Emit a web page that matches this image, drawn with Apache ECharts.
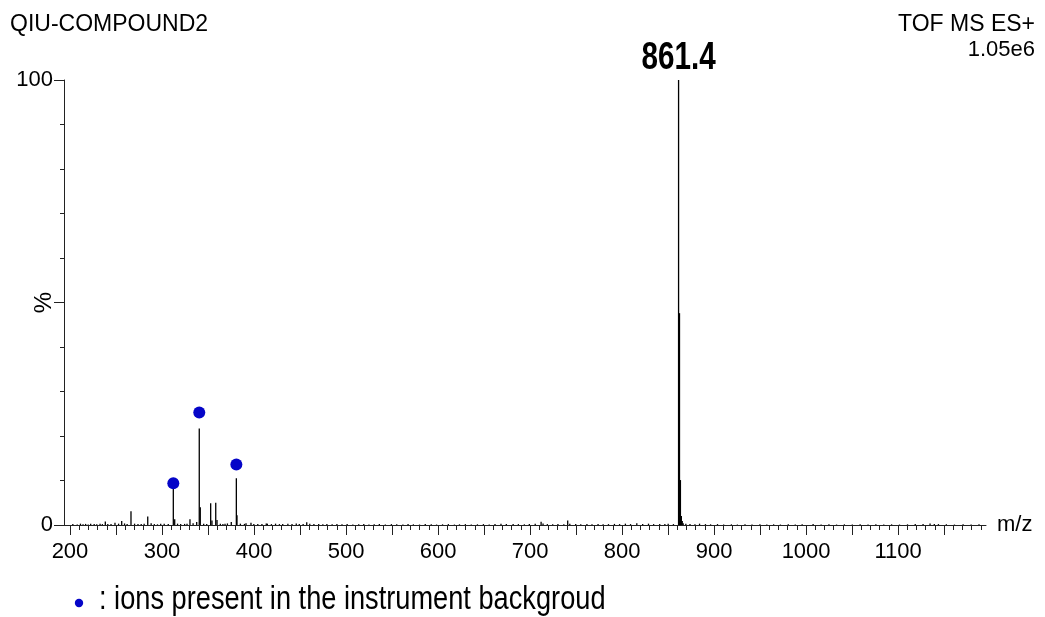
<!DOCTYPE html>
<html>
<head>
<meta charset="utf-8">
<script src="https://cdn.jsdelivr.net/npm/echarts@6/dist/echarts.min.js"></script>
<style>
  html, body { margin: 0; padding: 0; background: #fff; }
  #chart { width: 1045px; height: 617px; }
</style>
</head>
<body>
<div id="chart"></div>
<script>
// Header texts
const sampleName = 'QIU-COMPOUND2';
const acquisition = 'TOF MS ES+';
const fullScale = '1.05e6';
const backgroundNote = ': ions present in the instrument backgroud';

// Resolved peaks: [m/z, relative intensity %]
const mainPeaks = [
  [238.4, 0.8], [248.9, 0.5], [256.2, 0.9], [266.3, 3.1], [284.5, 1.9],
  [298.6, 0.3], [312.3, 8.2], [313.8, 1.3], [330.4, 1.3], [337.7, 0.7],
  [340.5, 21.7], [341.6, 4.0], [352.9, 4.9], [354.3, 1.0], [358.4, 5.0],
  [359.8, 1.1], [368.5, 0.3], [375.3, 0.7], [380.8, 10.5], [381.5, 2.2],
  [396.7, 0.5], [414.5, 0.3], [457.3, 0.6], [712.0, 0.75], [740.9, 1.0],
  [816.0, 0.4], [861.4, 100], [862.4, 47.6], [863.4, 10.1], [864.4, 2.0],
  [865.4, 0.9], [866.4, 0.4], [884.2, 0.3], [1007.6, 0.2], [1134.7, 0.35],
  [1143.8, 0.2]
];

// Low-level baseline signals: [m/z, relative intensity %]
const noisePeaks = [
  [203.1, 0.2], [207.9, 0.1], [211.4, 0.3], [214.2, 0.15], [217.0, 0.25],
  [219.8, 0.1], [222.5, 0.3], [226.3, 0.2], [229.1, 0.15], [232.7, 0.3],
  [235.2, 0.2], [241.1, 0.25], [244.6, 0.2], [252.8, 0.3], [259.3, 0.35],
  [262.1, 0.2], [270.2, 0.3], [273.9, 0.25], [277.4, 0.2], [280.6, 0.3],
  [288.2, 0.4], [291.7, 0.2], [295.1, 0.15], [302.4, 0.3], [306.8, 0.2],
  [316.9, 0.3], [320.3, 0.2], [324.6, 0.25], [327.2, 0.3], [333.8, 0.4],
  [345.3, 0.3], [348.6, 0.25], [363.4, 0.3], [366.2, 0.2], [371.1, 0.35],
  [385.2, 0.3], [389.6, 0.25], [391.3, 0.4], [399.8, 0.2], [404.1, 0.25],
  [408.6, 0.2], [413.3, 0.35], [418.9, 0.2], [423.4, 0.3], [427.6, 0.2],
  [431.2, 0.25], [436.8, 0.3], [441.3, 0.2], [445.9, 0.35], [449.2, 0.2],
  [453.4, 0.25], [460.6, 0.3], [465.1, 0.2], [470.3, 0.25], [474.8, 0.15],
  [479.2, 0.2], [484.9, 0.15], [490.1, 0.2], [495.6, 0.15], [501.2, 0.2],
  [507.4, 0.1], [513.8, 0.15], [519.3, 0.2], [524.9, 0.1], [530.6, 0.15],
  [536.2, 0.2], [542.7, 0.1], [549.3, 0.2], [555.1, 0.15], [561.8, 0.1],
  [567.4, 0.2], [573.2, 0.15], [579.9, 0.1], [586.1, 0.2], [592.6, 0.15],
  [598.4, 0.1], [604.9, 0.15], [611.2, 0.2], [617.8, 0.1], [623.3, 0.15],
  [629.7, 0.2], [636.1, 0.1], [642.8, 0.15], [649.3, 0.2], [655.6, 0.1],
  [661.9, 0.2], [668.4, 0.3], [674.2, 0.2], [681.6, 0.25], [687.3, 0.2],
  [693.8, 0.15], [699.2, 0.2], [705.6, 0.3], [714.1, 0.35], [718.8, 0.2],
  [724.6, 0.15], [730.3, 0.2], [736.7, 0.15], [743.2, 0.3], [749.6, 0.2],
  [755.1, 0.15], [761.8, 0.2], [767.3, 0.15], [773.9, 0.2], [779.4, 0.15],
  [785.2, 0.2], [791.7, 0.25], [797.3, 0.2], [803.6, 0.3], [809.2, 0.2],
  [822.4, 0.25], [828.7, 0.3], [834.3, 0.2], [840.9, 0.25], [846.5, 0.2],
  [850.1, 0.3], [855.8, 0.2], [869.3, 0.3], [873.8, 0.2], [879.2, 0.15],
  [890.6, 0.2], [896.2, 0.15], [903.7, 0.2], [910.4, 0.1], [918.8, 0.15],
  [925.3, 0.1], [933.6, 0.15], [941.2, 0.1], [949.8, 0.15], [957.3, 0.1],
  [964.7, 0.15], [972.1, 0.1], [980.6, 0.15], [988.2, 0.1], [995.7, 0.15],
  [1016.3, 0.1], [1024.8, 0.15], [1033.1, 0.1], [1041.6, 0.15], [1050.2, 0.1],
  [1058.7, 0.15], [1067.3, 0.1], [1075.8, 0.15], [1084.4, 0.1], [1092.9, 0.15],
  [1101.5, 0.1], [1110.2, 0.15], [1118.6, 0.2], [1127.1, 0.25], [1139.3, 0.2],
  [1152.4, 0.15], [1161.2, 0.1], [1170.6, 0.15], [1179.3, 0.1], [1187.9, 0.15]
];

// Most intense ion, labelled with its m/z
const basePeak = [[861.4, 100]];

// Ions present in the instrument background and the height of their markers (%)
const backgroundIonMz = [312.3, 340.5, 380.8];
const backgroundMarkerLevel = [9.4, 25.3, 13.6];

// Axis ticks and labels
const xLabelValues = [200, 300, 400, 500, 600, 700, 800, 900, 1000, 1100];
const xMajorTicks = [200, 250, 300, 350, 400, 450, 500, 550, 600, 650, 700, 750,
                     800, 850, 900, 950, 1000, 1050, 1100, 1150];
const yLabelValues = [0, 100];
const xRange = [193.5, 1195.5];

const xMinorTicks = [];
for (let v = 200; v <= 1190; v += 10) {
  if (v % 50 !== 0) xMinorTicks.push(v);
}

const FONT = '"Liberation Sans", Arial, Helvetica, sans-serif';
const INK = '#000';
const AXIS = '#222';
const MARKER = '#0505c8';

function renderStick(params, api) {
  const base = api.coord([api.value(0), 0]);
  const top = api.coord([api.value(0), api.value(1)]);
  return {
    type: 'line',
    shape: { x1: base[0], y1: base[1], x2: top[0], y2: top[1] },
    style: { stroke: INK, lineWidth: 1.3 }
  };
}

function renderPeakLabel(params, api) {
  const top = api.coord([api.value(0), api.value(1)]);
  return {
    type: 'text',
    x: top[0],
    y: top[1] - 21,
    scaleX: 0.78,
    style: {
      text: api.value(0).toFixed(1),
      font: 'bold 38px ' + FONT,
      fill: INK,
      align: 'center',
      verticalAlign: 'middle'
    }
  };
}

const chart = echarts.init(document.getElementById('chart'), null, { renderer: 'canvas' });

chart.setOption({
  animation: false,
  backgroundColor: '#fff',
  textStyle: { fontFamily: FONT, color: INK },
  grid: { left: 64, right: 59, top: 80, bottom: 92, containLabel: false, outerBoundsMode: 'none' },
  xAxis: [
    {
      type: 'value',
      min: xRange[0],
      max: xRange[1],
      position: 'bottom',
      name: 'm/z',
      nameLocation: 'end',
      nameGap: 11,
      nameMoveOverlap: false,
      nameTextStyle: { fontSize: 22, color: INK, fontFamily: FONT, verticalAlign: 'middle' },
      axisLine: { show: true, onZero: false, lineStyle: { color: AXIS, width: 1 } },
      axisTick: { show: true, inside: false, length: 10, customValues: xMajorTicks, lineStyle: { color: AXIS, width: 1 } },
      axisLabel: {
        show: true, customValues: xLabelValues, margin: 16, fontSize: 22, color: INK, fontFamily: FONT,
        formatter: (v) => String(v)
      },
      splitLine: { show: false }
    },
    {
      type: 'value',
      min: xRange[0],
      max: xRange[1],
      position: 'bottom',
      axisLine: { show: false },
      axisTick: { show: true, inside: false, length: 5, customValues: xMinorTicks, lineStyle: { color: AXIS, width: 1 } },
      axisLabel: { show: false },
      splitLine: { show: false }
    }
  ],
  yAxis: {
    type: 'value',
    min: 0,
    max: 100,
    interval: 50,
    name: '%',
    nameLocation: 'middle',
    nameRotate: 90,
    nameGap: 8,
    nameMoveOverlap: false,
    nameTextStyle: { fontSize: 24, color: INK, fontFamily: FONT },
    axisLine: { show: true, onZero: false, lineStyle: { color: AXIS, width: 1 } },
    axisTick: { show: true, inside: false, length: 10, lineStyle: { color: AXIS, width: 1 } },
    minorTick: { show: true, splitNumber: 5, length: 4, lineStyle: { color: AXIS, width: 1 } },
    axisLabel: {
      show: true, customValues: yLabelValues, margin: 11, fontSize: 22, color: INK, fontFamily: FONT,
      formatter: (v) => String(v)
    },
    splitLine: { show: false },
    minorSplitLine: { show: false }
  },
  series: [
    {
      name: 'baseline',
      type: 'custom',
      xAxisIndex: 0,
      renderItem: renderStick,
      encode: { x: 0, y: 1 },
      data: noisePeaks,
      silent: true
    },
    {
      name: 'spectrum',
      type: 'custom',
      xAxisIndex: 0,
      renderItem: renderStick,
      encode: { x: 0, y: 1 },
      data: mainPeaks,
      silent: true
    },
    {
      name: 'base peak',
      type: 'custom',
      xAxisIndex: 0,
      renderItem: renderPeakLabel,
      encode: { x: 0, y: 1 },
      data: basePeak,
      silent: true
    },
    {
      name: 'background ions',
      type: 'scatter',
      xAxisIndex: 0,
      symbol: 'circle',
      symbolSize: 12,
      itemStyle: { color: MARKER, opacity: 1 },
      data: backgroundIonMz.map((mz, i) => [mz, backgroundMarkerLevel[i]]),
      silent: true
    }
  ],
  graphic: [
    {
      type: 'text', x: 10, y: 25,
      style: { text: sampleName, font: '23px ' + FONT, fill: INK, align: 'left', verticalAlign: 'middle' }
    },
    {
      type: 'text', x: 1035, y: 25,
      style: { text: acquisition, font: '23px ' + FONT, fill: INK, align: 'right', verticalAlign: 'middle' }
    },
    {
      type: 'text', x: 1035, y: 50,
      style: { text: fullScale, font: '22px ' + FONT, fill: INK, align: 'right', verticalAlign: 'middle' }
    },
    {
      type: 'circle', shape: { cx: 79, cy: 603, r: 4.2 },
      style: { fill: MARKER }
    },
    {
      type: 'text', x: 99, y: 600, scaleX: 0.8,
      style: { text: backgroundNote, font: '34px ' + FONT, fill: INK, align: 'left', verticalAlign: 'middle' }
    }
  ]
});
</script>
</body>
</html>
